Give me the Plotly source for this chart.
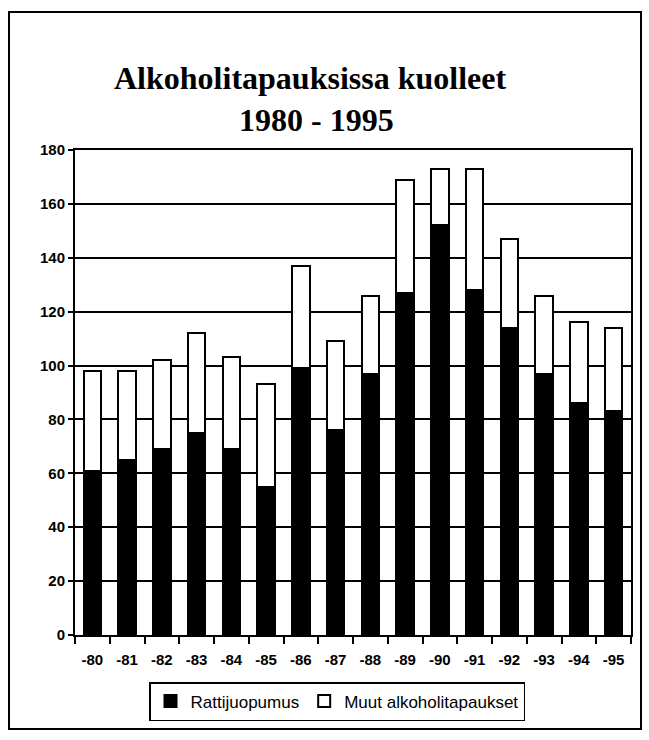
import plotly.graph_objects as go

years = ["-80", "-81", "-82", "-83", "-84", "-85", "-86", "-87",
         "-88", "-89", "-90", "-91", "-92", "-93", "-94", "-95"]
rattijuopumus = [61, 65, 69, 75, 69, 55, 99, 76, 97, 127, 152, 128, 114, 97, 86, 83]
totals = [98, 98, 102, 112, 103, 93, 137, 109, 126, 169, 173, 173, 147, 126, 116, 114]
muut = [t - r for t, r in zip(totals, rattijuopumus)]
y_ticks = [0, 20, 40, 60, 80, 100, 120, 140, 160, 180]

W, H = 649, 740
L, R, T, B = 75, 18, 150, 105
pw, ph = W - L - R, H - T - B

def px(x):
    return (x - L) / pw

def py(y):
    return (H - B - y) / ph

fig = go.Figure()
fig.add_trace(go.Bar(
    x=years, y=rattijuopumus, name="Rattijuopumus",
    marker=dict(color="black", line=dict(color="black", width=2)),
))
fig.add_trace(go.Bar(
    x=years, y=muut, name="Muut alkoholitapaukset",
    marker=dict(color="white", line=dict(color="black", width=2)),
))

fig.update_layout(
    width=W, height=H,
    margin=dict(l=L, r=R, t=T, b=B),
    paper_bgcolor="white", plot_bgcolor="white",
    barmode="stack", bargap=0.5,
    showlegend=True,
    legend=dict(
        orientation="h", x=px(337), xanchor="center", y=py(682), yanchor="top",
        bordercolor="black", borderwidth=1.5, bgcolor="white",
        font=dict(family="Liberation Sans", size=17, color="black"),
        itemwidth=30, traceorder="normal",
    ),
    font=dict(family="Liberation Sans", color="black"),
)
fig.update_xaxes(
    type="category", showline=True, linecolor="black", linewidth=2, mirror=True,
    ticks="outside", tickson="boundaries", ticklen=7, tickwidth=1.5, tickcolor="black",
    tickfont=dict(family="Liberation Sans", size=15, color="black", weight="bold"),
    ticklabelstandoff=10,
    showgrid=False,
)
fig.update_yaxes(
    range=[0, 180], tickvals=y_ticks, showline=True, linecolor="black", linewidth=2,
    mirror=True, ticks="outside", ticklen=5, tickwidth=1.5, tickcolor="black",
    tickfont=dict(family="Liberation Sans", size=15, color="black", weight="bold"),
    showgrid=True, gridcolor="black", gridwidth=2, zeroline=False,
)

fig.add_annotation(
    text="Alkoholitapauksissa kuolleet", xref="paper", yref="paper",
    x=px(310), y=py(78), xanchor="center", yanchor="middle", showarrow=False,
    font=dict(family="Liberation Serif", size=32, color="black", weight="bold"),
)
fig.add_annotation(
    text="1980 - 1995", xref="paper", yref="paper",
    x=px(316), y=py(120), xanchor="center", yanchor="middle", showarrow=False,
    font=dict(family="Liberation Serif", size=32, color="black", weight="bold"),
)
fig.add_shape(
    type="rect", xref="paper", yref="paper",
    x0=px(9), x1=px(641), y0=py(729), y1=py(12),
    line=dict(color="black", width=2), layer="below",
)

fig.write_html(
    "out.html",
    config={"displayModeBar": False},
    post_script="document.body.style.margin='0';document.body.style.overflow='hidden';",
)
